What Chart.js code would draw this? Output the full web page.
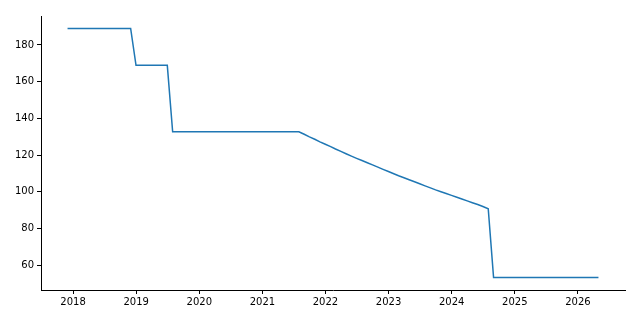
<!DOCTYPE html>
<html>
<head>
<meta charset="utf-8">
<script src="https://cdn.jsdelivr.net/npm/chart.js@4/dist/chart.umd.min.js"></script>
<style>
  html, body { margin: 0; padding: 0; background: #fff; }
  #chart { display: block; }
</style>
</head>
<body>
<canvas id="chart" width="640" height="320"></canvas>
<script>
// dates (month end) and values
const dates = [
    '2017-11-30', '2018-11-30', '2018-12-31', '2019-06-30', '2019-07-31',
    '2021-07-31', '2021-08-31', '2021-09-30', '2021-10-31', '2021-11-30', '2021-12-31',
    '2022-01-31', '2022-02-28', '2022-03-31', '2022-04-30', '2022-05-31', '2022-06-30',
    '2022-07-31', '2022-08-31', '2022-09-30', '2022-10-31', '2022-11-30', '2022-12-31',
    '2023-01-31', '2023-02-28', '2023-03-31', '2023-04-30', '2023-05-31', '2023-06-30',
    '2023-07-31', '2023-08-31', '2023-09-30', '2023-10-31', '2023-11-30', '2023-12-31',
    '2024-01-31', '2024-02-29', '2024-03-31', '2024-04-30', '2024-05-31', '2024-06-30',
    '2024-07-31', '2024-08-31', '2026-04-30'
];
const values = [
    189.0, 189.0, 168.9, 168.9, 132.7,
    132.7, 131.3, 129.9, 128.6, 127.2, 125.9,
    124.6, 123.3, 122.0, 120.7, 119.4, 118.2,
    117.0, 115.8, 114.6, 113.4, 112.2, 111.0,
    109.8, 108.7, 107.6, 106.5, 105.4, 104.3,
    103.2, 102.1, 101.0, 100.0, 99.0, 98.0,
    97.0, 96.0, 95.0, 94.0, 93.0, 91.9,
    90.7, 53.2, 53.2
];
const xTicks = [2018, 2019, 2020, 2021, 2022, 2023, 2024, 2025, 2026];
const yTicks = [60, 80, 100, 120, 140, 160, 180];

// date string -> decimal year
function toYear(s) {
    const d = new Date(s + 'T00:00:00Z');
    const y = d.getUTCFullYear();
    const start = Date.UTC(y, 0, 1);
    const end = Date.UTC(y + 1, 0, 1);
    return y + (d.getTime() - start) / (end - start);
}

const points = dates.map((d, i) => ({ x: toYear(d), y: values[i] }));

// matplotlib-like 5% margins
const xs = points.map(p => p.x);
const xMinD = Math.min(...xs), xMaxD = Math.max(...xs);
const yMinD = Math.min(...values), yMaxD = Math.max(...values);
const xPad = (xMaxD - xMinD) * 0.05;
const yPad = (yMaxD - yMinD) * 0.05;

const font = { family: 'DejaVu Sans', size: 10 };

new Chart(document.getElementById('chart').getContext('2d'), {
    type: 'line',
    data: {
        datasets: [{
            data: points,
            borderColor: '#1f77b4',
            borderWidth: 1.5,
            pointRadius: 0,
            tension: 0,
            fill: false
        }]
    },
    options: {
        responsive: false,
        animation: false,
        devicePixelRatio: 1,
        layout: { padding: { top: 16, right: 15, left: 0, bottom: 0 } },
        plugins: {
            legend: { display: false },
            tooltip: { enabled: false }
        },
        scales: {
            x: {
                type: 'linear',
                min: xMinD - xPad,
                max: xMaxD + xPad,
                afterFit: s => { s.height = 30; },
                afterBuildTicks: s => { s.ticks = xTicks.map(v => ({ value: v })); },
                ticks: {
                    callback: v => String(v),
                    color: '#000',
                    font: font,
                    padding: 2,
                    maxRotation: 0,
                    autoSkip: false
                },
                grid: { drawOnChartArea: false, drawTicks: true, tickLength: 4, color: '#000' },
                border: { display: true, color: '#000', width: 1 }
            },
            y: {
                type: 'linear',
                min: yMinD - yPad,
                max: yMaxD + yPad,
                afterFit: s => { s.width = 41; },
                afterBuildTicks: s => { s.ticks = yTicks.map(v => ({ value: v })); },
                ticks: {
                    callback: v => String(v),
                    color: '#000',
                    font: font,
                    padding: 3
                },
                grid: { drawOnChartArea: false, drawTicks: true, tickLength: 4, color: '#000' },
                border: { display: true, color: '#000', width: 1 }
            }
        }
    }
});
</script>
</body>
</html>
